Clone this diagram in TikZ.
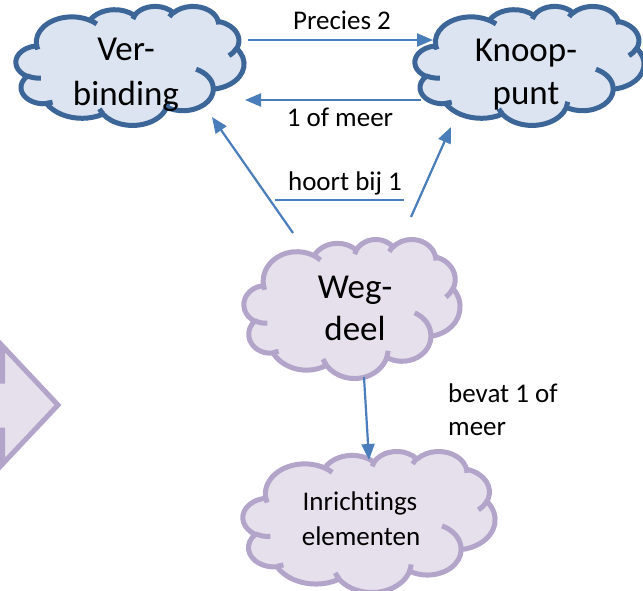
\documentclass[tikz,border=0pt]{standalone}
\usepackage{fontspec}
\setmainfont{Carlito}[Ligatures=NoCommon]
\usetikzlibrary{arrows.meta}
\definecolor{bluefill}{HTML}{DCE4F1}
\definecolor{blueline}{HTML}{3D6698}
\definecolor{purpfill}{HTML}{E5E0EC}
\definecolor{purpline}{HTML}{B3A4CA}
\definecolor{arrowblue}{HTML}{4A7EBB}
\newcommand\oarc[4]{arc[x radius=#1, y radius=#2, start angle={atan2(#1*sin(#3),#2*cos(#3))}, delta angle={mod(atan2(#1*sin((#3)+(#4)),#2*cos((#3)+(#4)))-atan2(#1*sin(#3),#2*cos(#3))+720,360)}]}
\newcommand\officecloud[5]{%
\begin{scope}[shift={(#1,#2)},xscale=#3/43.2,yscale=#4/43.2]
\path[#5] (3.900,14.370)
 \oarc{6.753}{9.190}{-190.4875}{123.7805}
 \oarc{5.333}{7.267}{-144.1024}{89.9452}
 \oarc{4.365}{5.945}{-145.8079}{99.7230}
 \oarc{4.857}{6.595}{-130.9861}{117.2417}
 \oarc{5.333}{7.273}{-78.7089}{109.0269}
 \oarc{6.775}{9.220}{-46.2673}{130.2690}
 \oarc{5.785}{7.867}{0.6250}{114.0333}
 \oarc{6.752}{9.215}{22.4516}{115.1726}
 \oarc{7.720}{10.543}{66.2426}{75.7110}
 \oarc{4.360}{5.918}{-274.9421}{146.7356}
 \oarc{4.345}{5.945}{-246.8285}{152.5189}
 -- cycle;
\path[#5,fill=none]
 (4.693,26.177) \oarc{4.345}{5.945}{86.7420}{26.4295}
 (6.928,34.899) \oarc{4.360}{5.918}{73.6105}{11.4475}
 (16.478,39.090) \oarc{6.752}{9.215}{137.6242}{14.0811}
 (28.827,34.751) \oarc{6.752}{9.215}{6.4533}{15.9984}
 (34.129,22.954) \oarc{5.785}{7.867}{-70.2924}{70.9174}
 (41.798,15.354) \oarc{5.333}{7.273}{30.3180}{27.7515}
 (38.324,5.426) \oarc{4.857}{6.595}{-13.7443}{14.8597}
 (29.078,3.952) \oarc{4.857}{6.595}{-149.1815}{18.1954}
 (22.141,4.720) \oarc{4.365}{5.945}{-163.4943}{17.6864}
 (14.000,5.192) \oarc{6.753}{9.190}{-66.7070}{12.3194}
 (4.127,15.789) \oarc{6.753}{9.190}{157.6544}{11.8582};
\end{scope}}
\tikzset{
  bluecloud/.style={draw=blueline,fill=bluefill,line width=5pt,line join=round},
  purpcloud/.style={draw=purpline,fill=purpfill,line width=5pt,line join=round},
  bigtext/.style={anchor=base,inner sep=0pt,font=\fontsize{35}{42}\selectfont},
  lbltext/.style={anchor=base,inner sep=0pt,font=\fontsize{27}{33}\selectfont},
  conn/.style={draw=arrowblue,line width=2.2pt,-{Triangle[length=16pt,width=13pt]}},
  plainconn/.style={draw=arrowblue,line width=2.2pt}
}
\begin{document}
\begin{tikzpicture}[x=1pt,y=1pt,yscale=-1]
\useasboundingbox (0,0) rectangle (643,591);
% partial block arrow at left
\draw[draw=purpline,fill=purpfill,line width=5pt,miter limit=10]
  (-60,381) -- (2.5,381) -- (2.5,346) -- (58,405) -- (2.5,464) -- (2.5,430) -- (-60,430) -- cycle;
% clouds
\officecloud{16}{6}{228}{119}{bluecloud}
\officecloud{415}{6}{229}{119}{bluecloud}
\officecloud{244}{239}{216}{139}{purpcloud}
\officecloud{243}{451}{252}{141}{purpcloud}
% cloud texts
\node[bigtext] (verb1) at (126,61) {Ver-};
\node[bigtext] (verb2) at (126,106) {binding};
\node[bigtext] (knoop1) at (526,62) {Knoop-};
\node[bigtext] (knoop2) at (526,105) {punt};
\node[bigtext] (weg1) at (355,298) {Weg-};
\node[bigtext] (weg2) at (355,340) {deel};
\node[lbltext] (inr1) at (360,510) {Inrichtings};
\node[lbltext] (inr2) at (361,545) {elementen};
% connector end points on the clouds
\coordinate (vE) at (248,40);
\coordinate (kW) at (433,40);
\coordinate (kWlow) at (421,100);
\coordinate (vSE) at (245,100);
\coordinate (wNW) at (293,233);
\coordinate (vS) at (212,117);
\coordinate (wNE) at (411,217);
\coordinate (kSW) at (451,127);
\coordinate (wS) at (364,377);
\coordinate (iN) at (369,460);
\coordinate (hlL) at (275,200);
\coordinate (hlR) at (404,200);
% connectors
\draw[conn] (vE) -- (kW);
\draw[conn] (kWlow) -- (vSE);
\draw[conn] (wNW) -- (vS);
\draw[conn] (wNE) -- (kSW);
\draw[conn] (wS) -- (iN);
\draw[plainconn] (hlL) -- (hlR);
% labels
\node[lbltext] (lprecies) at (342,30) {Precies 2};
\node[lbltext] (lmeer) at (340,127) {1 of meer};
\node[lbltext] (lhoort) at (345,190) {hoort bij 1};
\node[lbltext,anchor=base west] (lbevat1) at (448,402) {bevat 1 of};
\node[lbltext,anchor=base west] (lbevat2) at (448,435) {meer};
\end{tikzpicture}
\end{document}
